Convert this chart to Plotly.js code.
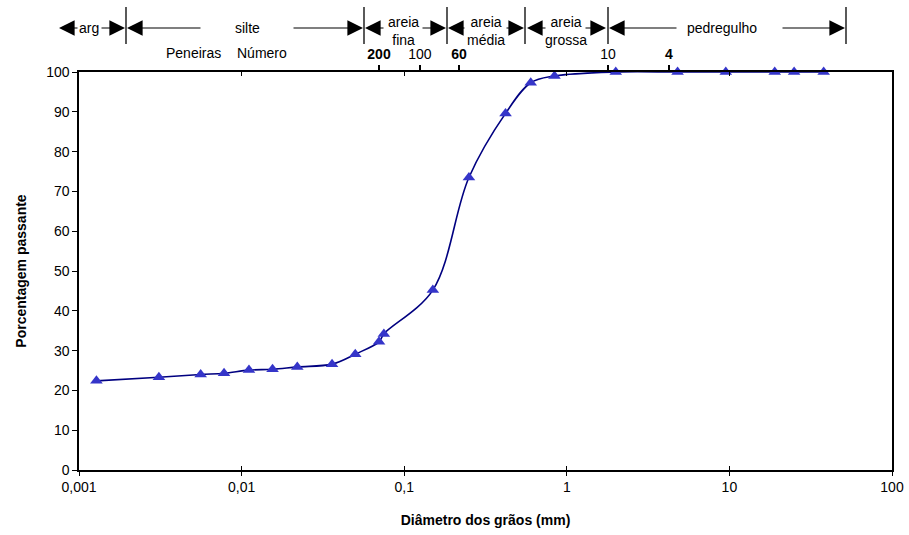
<!DOCTYPE html>
<html>
<head>
<meta charset="utf-8">
<script src="https://cdn.plot.ly/plotly-3.0.1.min.js"></script>
<style>html,body{margin:0;padding:0;background:#fff;}#chart{width:909px;height:535px;}</style>
</head>
<body>
<div id="chart"></div>
<script>
// ---- data ----
const diameters = [0.00128, 0.0031, 0.0056, 0.0078, 0.0111, 0.0155, 0.022, 0.036, 0.050, 0.070, 0.075,
                   0.15, 0.25, 0.42, 0.60, 0.84, 2.0, 4.8, 9.5, 19, 25, 38];
const passing   = [22.4, 23.3, 24.0, 24.3, 25.1, 25.3, 25.9, 26.6, 29.1, 32.2, 34.2,
                   45.2, 73.5, 89.6, 97.3, 99.0, 100, 100, 100, 100, 100, 100];

const xTickVals  = [0.001, 0.01, 0.1, 1, 10, 100];
const xTickText  = ['0,001', '0,01', '0,1', '1', '10', '100'];
// sieve numbers on the top axis (positions in mm as drawn in the picture)
const sieveVals  = [0.070, 0.125, 0.217, 1.79, 4.25];
const sieveText  = ['<b>200</b>', '100', '<b>60</b>', '10', '<b>4</b>'];
// soil-class band
const bandNames  = ['arg', 'silte', 'areia<br>fina', 'areia<br>média', 'areia<br>grossa', 'pedregulho'];

// ---- helpers for decorative band (pixel -> paper) ----
const L = 79, R = 892, T = 72, B = 470;
const px = p => (p - L) / (R - L);
const py = p => (B - p) / (B - T);
const FONT = 'Liberation Sans, Arial, sans-serif';

const shapes = [];
[126, 364, 447, 525, 608, 846].forEach(p => {
  shapes.push({type: 'line', xref: 'paper', yref: 'paper', x0: px(p), x1: px(p), y0: py(44), y1: py(7),
               line: {color: '#000', width: 1.3}});
});

const annotations = [];
// arrows: [head px, tail px]
const arrows = [[59, 79], [125, 100], [127, 202], [363, 292], [365, 385], [446, 421], [448, 466], [524, 505],
                [527, 547], [606, 584], [609, 678], [845, 781]];
arrows.forEach(a => {
  annotations.push({xref: 'paper', yref: 'paper', x: px(a[0]), y: py(28), ax: a[1] - a[0], ay: 0,
    text: '', showarrow: true, arrowhead: 2, arrowsize: 2.6, arrowwidth: 1.2, arrowcolor: '#000', standoff: 0});
});
const bandX = [89, 247, 403, 486, 566, 722];
bandNames.forEach((n, i) => {
  const two = n.indexOf('<br>') >= 0;
  annotations.push({xref: 'paper', yref: 'paper', x: px(bandX[i]), y: py(two ? 31 : 28), text: n, showarrow: false,
    xanchor: 'center', yanchor: 'middle', font: {family: FONT, size: 14, color: '#000'}});
});
annotations.push({xref: 'paper', yref: 'paper', x: px(193), y: py(53), text: 'Peneiras', showarrow: false,
  xanchor: 'center', yanchor: 'middle', font: {family: FONT, size: 14, color: '#000'}});
annotations.push({xref: 'paper', yref: 'paper', x: px(262), y: py(53), text: 'Número', showarrow: false,
  xanchor: 'center', yanchor: 'middle', font: {family: FONT, size: 14, color: '#000'}});

const traces = [
  {x: diameters, y: passing, type: 'scatter', mode: 'lines+markers', cliponaxis: false,
   line: {color: '#000080', width: 1.6, shape: 'spline', smoothing: 1},
   marker: {symbol: 'triangle-up', size: 11, color: '#3535c9'}, hoverinfo: 'x+y', showlegend: false},
  {x: [], y: [], xaxis: 'x2', yaxis: 'y', showlegend: false, hoverinfo: 'skip'},
  {x: [], y: [], xaxis: 'x3', yaxis: 'y', showlegend: false, hoverinfo: 'skip'},
  {x: [], y: [], xaxis: 'x4', yaxis: 'y', showlegend: false, hoverinfo: 'skip'}
];

const baseLog = {type: 'log', range: [-3, 2], showgrid: false, zeroline: false, fixedrange: true};
const layout = {
  width: 909, height: 535,
  margin: {l: L, r: 909 - R, t: T, b: 535 - B},
  paper_bgcolor: '#fff', plot_bgcolor: '#fff',
  font: {family: FONT, size: 14, color: '#000'},
  showlegend: false,
  xaxis: Object.assign({}, baseLog, {
    tickvals: xTickVals, ticktext: xTickText, ticks: 'outside', ticklen: 4, tickwidth: 1, tickcolor: '#000',
    showline: true, linecolor: '#000', linewidth: 1.6, mirror: true,
    tickfont: {family: FONT, size: 14, color: '#000'},
    title: {text: '<b>Diâmetro dos grãos (mm)</b>', font: {family: FONT, size: 14, color: '#000'}, standoff: 21}
  }),
  xaxis2: Object.assign({}, baseLog, {
    overlaying: 'x', anchor: 'y', side: 'top', tickvals: sieveVals, ticktext: sieveText,
    ticks: 'outside', ticklen: 6, tickwidth: 2, tickcolor: '#000', showline: false,
    tickfont: {family: FONT, size: 14, color: '#000'}
  }),
  xaxis3: Object.assign({}, baseLog, {
    overlaying: 'x', anchor: 'y', side: 'top', tickvals: xTickVals, ticks: 'inside', ticklen: 4,
    tickwidth: 1, tickcolor: '#000', showticklabels: false, showline: false
  }),
  xaxis4: Object.assign({}, baseLog, {
    overlaying: 'x', anchor: 'y', side: 'bottom', tickvals: xTickVals, ticks: 'inside', ticklen: 4,
    tickwidth: 1, tickcolor: '#000', showticklabels: false, showline: false
  }),
  yaxis: {
    range: [0, 100], dtick: 10, tick0: 0, ticks: 'outside', ticklen: 5, tickwidth: 1, tickcolor: '#000',
    showline: true, linecolor: '#000', linewidth: 1.6, mirror: true, showgrid: false, zeroline: false,
    fixedrange: true, tickfont: {family: FONT, size: 14, color: '#000'},
    title: {text: '<b>Porcentagem passante</b>', font: {family: FONT, size: 14, color: '#000'}, standoff: 16}
  },
  shapes: shapes,
  annotations: annotations
};

Plotly.newPlot('chart', traces, layout, {displayModeBar: false, staticPlot: true});
</script>
</body>
</html>
